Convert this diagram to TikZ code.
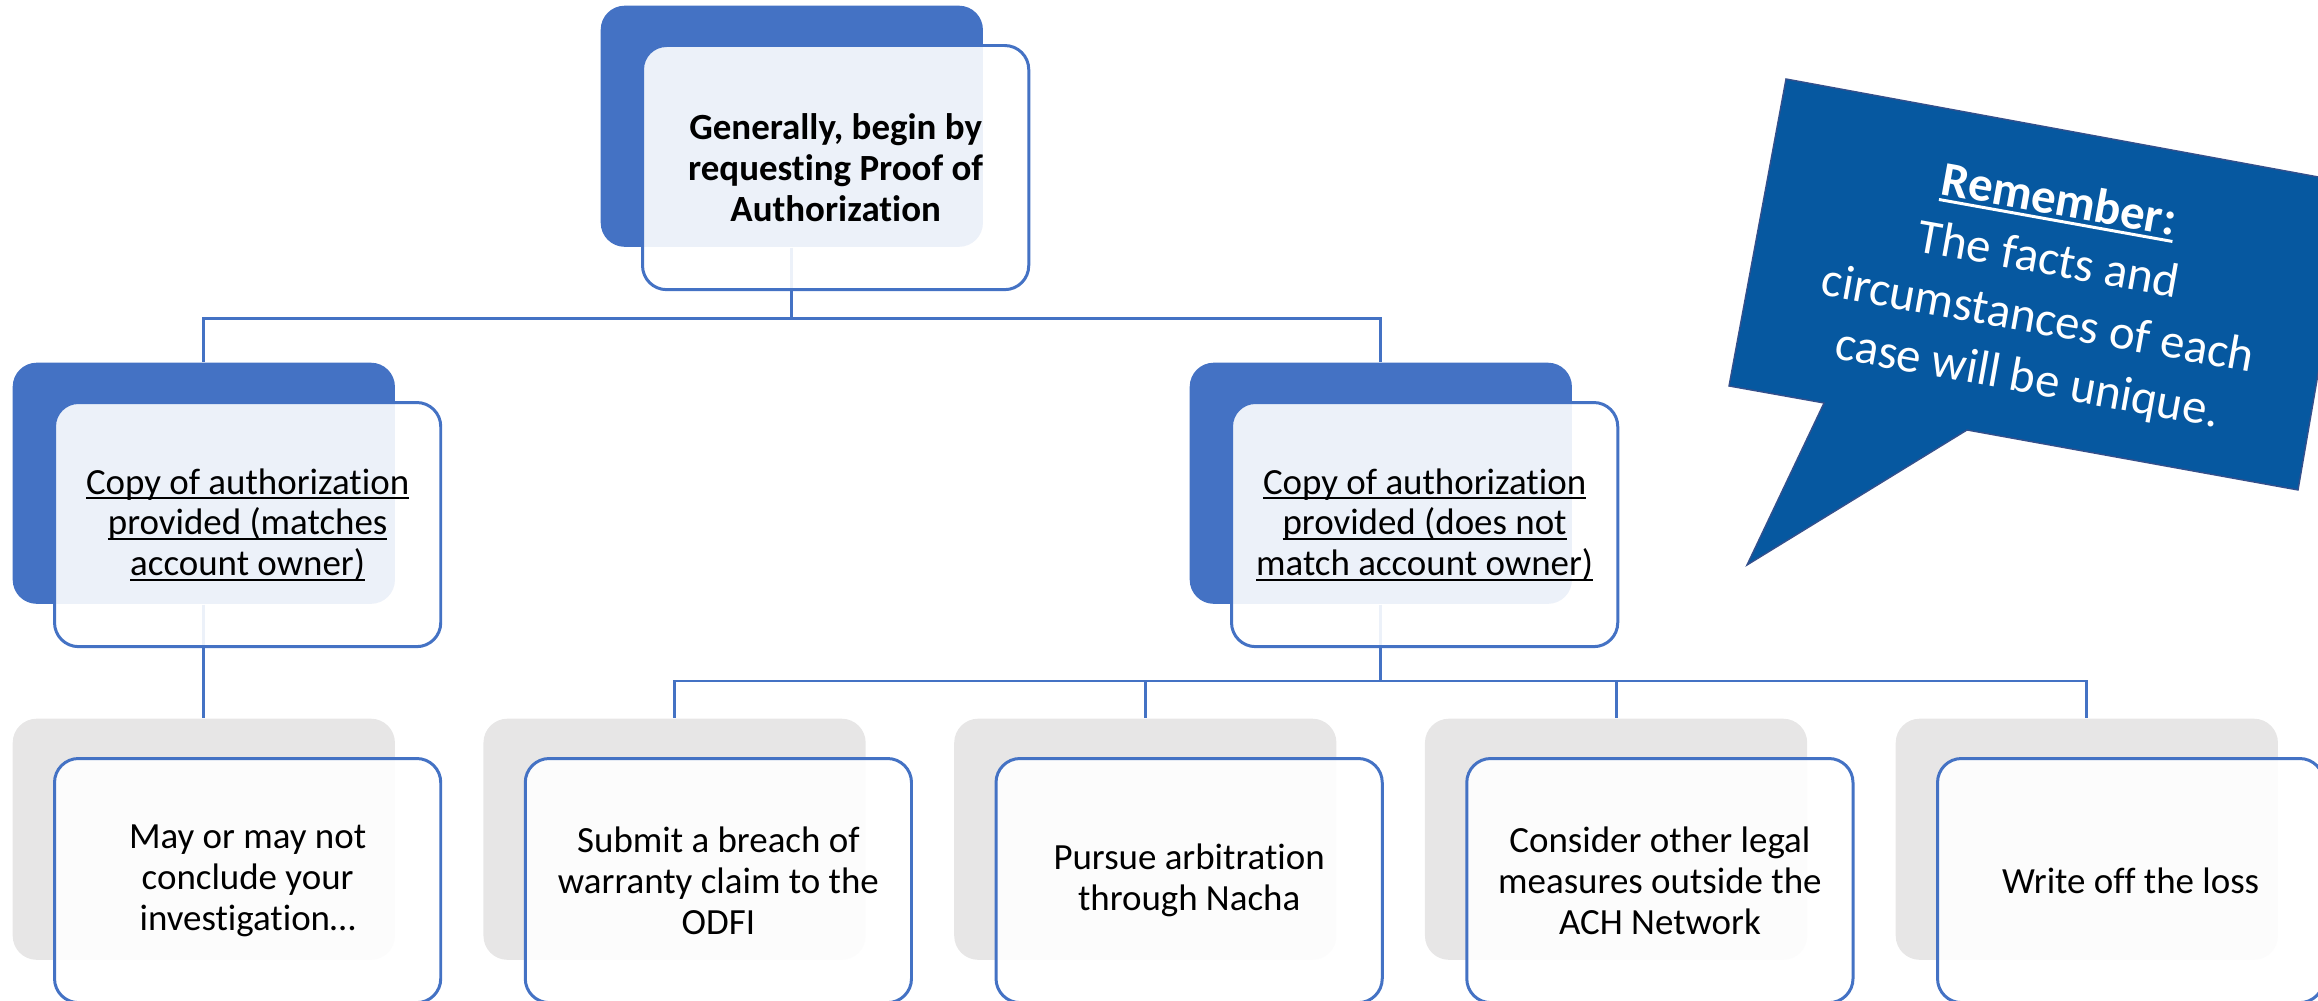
\documentclass[tikz,border=0pt]{standalone}
\usepackage{fontspec}
\setmainfont{Carlito}[Ligatures=NoCommon]
\usetikzlibrary{positioning}

\definecolor{accentblue}{RGB}{68,114,196}
\definecolor{panelgray}{RGB}{231,230,230}
\definecolor{calloutblue}{RGB}{6,88,160}
\definecolor{calloutedge}{RGB}{52,80,140}

% underline sitting just under the baseline
\newsavebox{\linedbox}
\newcommand{\linedtext}[2][0.6pt]{%
    \sbox{\linedbox}{#2}%
    \rlap{\rule[-0.14em]{\wd\linedbox}{#1}}\usebox{\linedbox}}

\begin{document}
\begin{tikzpicture}[
    x=0.01cm, y=-0.01cm,
    back/.style={
        rectangle,
        rounded corners=0.24cm,
        minimum width=3.82cm,
        minimum height=2.41cm,
        inner sep=0pt,
        anchor=north west
    },
    backblue/.style={back, fill=accentblue},
    backgray/.style={back, fill=panelgray},
    card/.style={
        rectangle,
        draw=accentblue,
        line width=0.85pt,
        fill=white,
        fill opacity=0.9,
        text opacity=1,
        rounded corners=0.24cm,
        minimum width=3.86cm,
        minimum height=2.44cm,
        align=center,
        font=\fontsize{10.5}{11.6}\selectfont
    },
    link/.style={draw=accentblue, line width=0.85pt},
]
    \useasboundingbox (0,0) rectangle (2318,1001);

    % back panels
    \node[backblue] (topback) at (600,5) {};
    \node[backblue] (leftback) at (12,362) {};
    \node[backblue] (rightback) at (1189,362) {};
    \foreach \i in {1,...,5}
        \node[backgray] (optback\i) at ({12+470.75*(\i-1)},718) {};

    % connectors
    \coordinate (fork1) at (0,319);
    \coordinate (fork2) at (0,681);
    \draw[link] (topback.south) -- (topback.south |- fork1) -| (leftback.north);
    \draw[link] (topback.south |- fork1) -| (rightback.north);
    \draw[link] (leftback.south) -- (optback1.north);
    \draw[link] (rightback.south) -- (rightback.south |- fork2);
    \foreach \i in {2,...,5}
        \draw[link] (rightback.south |- fork2) -| (optback\i.north);

    % front cards
    \node[card, font=\fontsize{10.5}{11.6}\selectfont\bfseries,
          below right=0.39cm and 0.41cm of topback.north west] (topcard)
        {Generally, begin by\\requesting Proof of\\Authorization};
    \node[card, below right=0.39cm and 0.41cm of leftback.north west] (leftcard)
        {\linedtext{Copy of authorization}\\\linedtext{provided (matches}\\\linedtext{account owner)}};
    \node[card, below right=0.39cm and 0.41cm of rightback.north west] (rightcard)
        {\linedtext{Copy of authorization}\\\linedtext{provided (does not}\\\linedtext{match account owner)}};
    \foreach \txt [count=\i] in {
        {May or may not\\conclude your\\investigation…},
        {Submit a breach of\\warranty claim to the\\ODFI},
        {Pursue arbitration\\through Nacha},
        {Consider other legal\\measures outside the\\ACH Network},
        {Write off the loss}}
        \node[card, below right=0.39cm and 0.41cm of optback\i.north west] (optcard\i) {\txt};

    % speech bubble
    \filldraw[fill=calloutblue, draw=calloutedge, line width=0.4pt]
        (1786,79) -- (2351,183) -- (2298,490) -- (1967,430) -- (1747,565)
        -- (1824,403) -- (1729,386) -- cycle;
    \node[rotate=-10.2, text=white, align=center,
          font=\fontsize{13.9}{17.1}\selectfont] (remember) at (2043,291)
        {\textbf{\linedtext[0.85pt]{Remember:}}\\The facts and\\circumstances of each\\case will be unique.};
\end{tikzpicture}
\end{document}
